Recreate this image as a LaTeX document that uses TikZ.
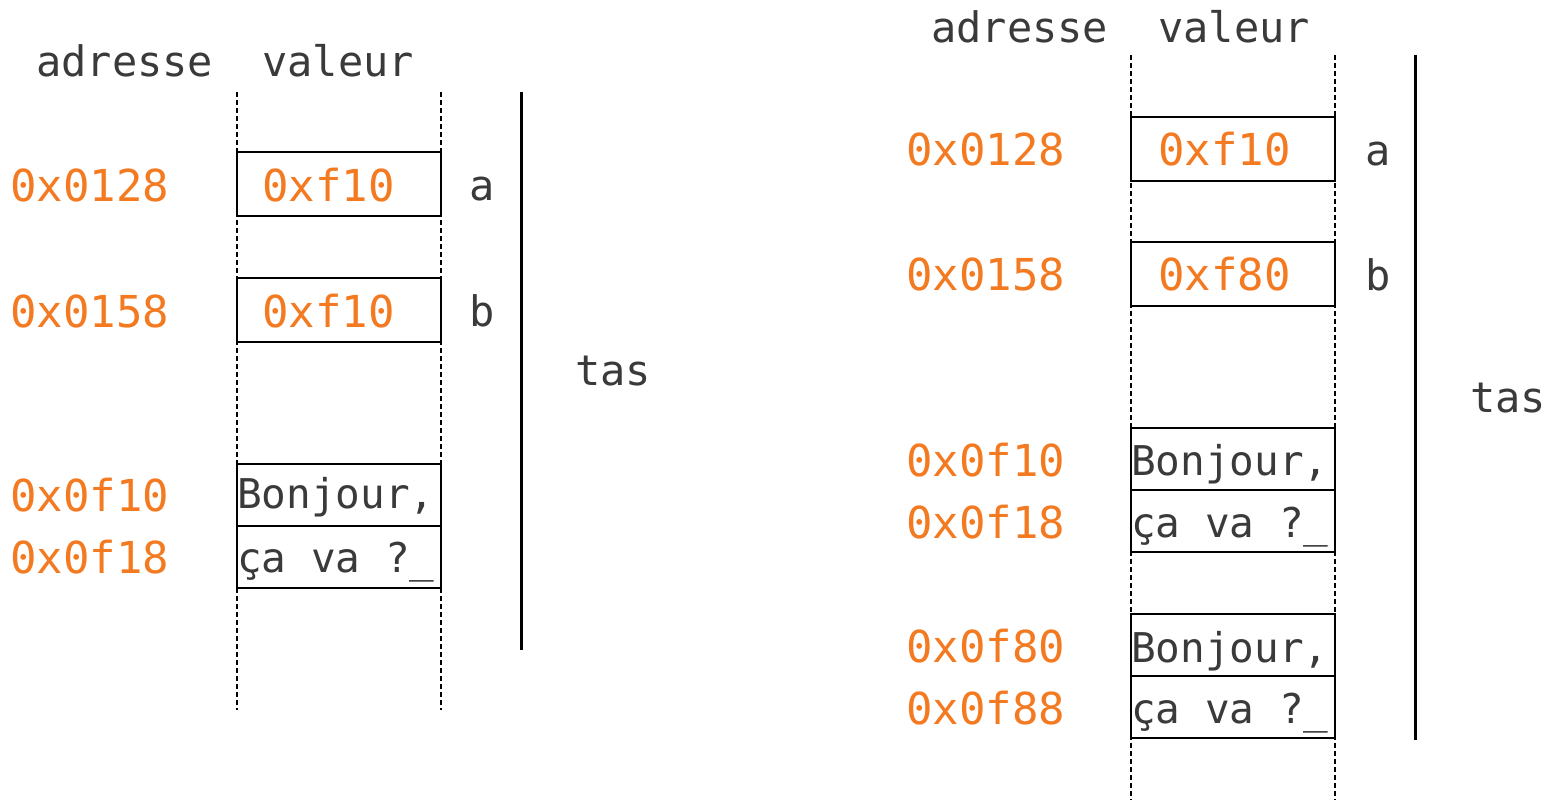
\documentclass[tikz,border=0pt]{standalone}
\usepackage{fontspec}
\newfontfamily\monof{DejaVu Sans Mono}
\definecolor{addr}{HTML}{F47A22}
\definecolor{txt}{HTML}{3A3A3A}
\tikzset{
  lbl/.style={inner sep=0pt, anchor=base west, text=txt, font=\monof\fontsize{42}{48}\selectfont},
  adr/.style={inner sep=0pt, anchor=base west, text=addr, font=\monof\fontsize{44}{48}\selectfont},
  str/.style={inner sep=0pt, anchor=base west, text=txt, font=\monof\fontsize{41}{46}\selectfont},
  guide/.style={line width=1.5pt, dash pattern=on 5pt off 3pt},
  cell/.style={line width=2.4pt},
  heap/.style={line width=3pt}
}
\begin{document}
\begin{tikzpicture}[x=1pt,y=-1pt]
\useasboundingbox (0,0) rectangle (1546,800);
% ---------- left ----------
\node[lbl] (hA1) at (36,77) {adresse};
\node[lbl] (hV1) at (262,77) {valeur};
\draw[guide] (237,92) -- (237,710);
\draw[guide] (441,92) -- (441,710);
\filldraw[cell, fill=white] (237,152) rectangle (441,216);
\filldraw[cell, fill=white] (237,278) rectangle (441,342);
\filldraw[cell, fill=white] (237,464) rectangle (441,526);
\filldraw[cell, fill=white] (237,526) rectangle (441,588);
\node[adr] (l1) at (10,201) {0x0128};
\node[adr] (l2) at (10,327) {0x0158};
\node[adr] (l3) at (10,511) {0x0f10};
\node[adr] (l4) at (10,573) {0x0f18};
\node[adr] (v1) at (262,201) {0xf10};
\node[adr] (v2) at (262,327) {0xf10};
\node[str] (s1) at (237,508) {Bonjour,};
\node[str] (s2) at (237,572) {ça va ?\_};
\node[lbl] (na1) at (469,200) {a};
\node[lbl] (nb1) at (469,326) {b};
\draw[heap] (521,92) -- (521,650);
\node[lbl] (t1) at (575,385) {tas};
% ---------- right ----------
\node[lbl] (hA2) at (931,42) {adresse};
\node[lbl] (hV2) at (1158,42) {valeur};
\draw[guide] (1131,55) -- (1131,800);
\draw[guide] (1335,55) -- (1335,800);
\filldraw[cell, fill=white] (1131,117) rectangle (1335,181);
\filldraw[cell, fill=white] (1131,242) rectangle (1335,306);
\filldraw[cell, fill=white] (1131,428) rectangle (1335,490);
\filldraw[cell, fill=white] (1131,490) rectangle (1335,552);
\filldraw[cell, fill=white] (1131,614) rectangle (1335,676);
\filldraw[cell, fill=white] (1131,676) rectangle (1335,738);
\node[adr] (r1) at (906,165) {0x0128};
\node[adr] (r2) at (906,290) {0x0158};
\node[adr] (r3) at (906,476) {0x0f10};
\node[adr] (r4) at (906,538) {0x0f18};
\node[adr] (r5) at (906,662) {0x0f80};
\node[adr] (r6) at (906,724) {0x0f88};
\node[adr] (w1) at (1158,165) {0xf10};
\node[adr] (w2) at (1158,290) {0xf80};
\node[str] (q1) at (1131,475) {Bonjour,};
\node[str] (q2) at (1131,537) {ça va ?\_};
\node[str] (q3) at (1131,662) {Bonjour,};
\node[str] (q4) at (1131,723) {ça va ?\_};
\node[lbl] (na2) at (1365,165) {a};
\node[lbl] (nb2) at (1365,290) {b};
\draw[heap] (1415,55) -- (1415,740);
\node[lbl] (t2) at (1470,412) {tas};
\end{tikzpicture}
\end{document}
